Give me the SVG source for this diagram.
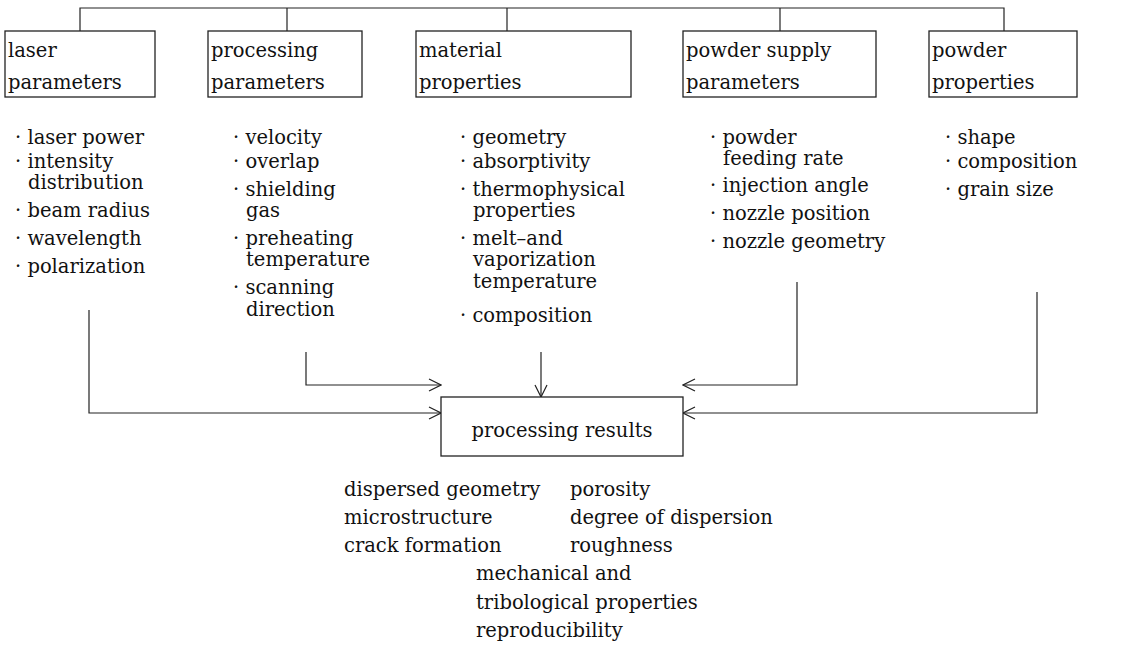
<svg xmlns="http://www.w3.org/2000/svg" width="1121" height="647" viewBox="0 0 1121 647">
<defs>
<style>
text{font-family:"DejaVu Serif","Liberation Serif",serif;font-size:19.5px;fill:#111}
.box{fill:#fff;stroke:#222;stroke-width:1.3}
.ln{fill:none;stroke:#222;stroke-width:1.2}
</style>
<marker id="ah" viewBox="0 0 14 14" refX="13" refY="7" markerWidth="14" markerHeight="14" markerUnits="userSpaceOnUse" orient="auto">
<path d="M1,1 L13,7 L1,13" fill="none" stroke="#222" stroke-width="1.2"/>
</marker>
</defs>
<rect width="1121" height="647" fill="#fff"/>
<g id="connectors">
<path class="ln" d="M80,31 V8 H1004 V31"/>
<path class="ln" d="M287,8 V31"/>
<path class="ln" d="M507,8 V31"/>
<path class="ln" d="M780,8 V31"/>
<path class="ln" d="M89,310 V413 H441" marker-end="url(#ah)"/>
<path class="ln" d="M306,352 V385 H441" marker-end="url(#ah)"/>
<path class="ln" d="M541,352 V397" marker-end="url(#ah)"/>
<path class="ln" d="M797,282 V385 H683" marker-end="url(#ah)"/>
<path class="ln" d="M1037,292 V413 H683" marker-end="url(#ah)"/>
</g>
<g id="laser">
<rect class="box" x="5" y="31" width="150" height="66"/>
<text x="8" y="57">laser</text>
<text x="8" y="89">parameters</text>
<text x="15" y="144">· laser power</text>
<text x="15" y="168">· intensity</text>
<text x="28" y="189">distribution</text>
<text x="15" y="217">· beam radius</text>
<text x="15" y="245">· wavelength</text>
<text x="15" y="273">· polarization</text>
</g>
<g id="processing">
<rect class="box" x="208" y="31" width="154" height="66"/>
<text x="211" y="57">processing</text>
<text x="211" y="89">parameters</text>
<text x="233" y="144">· velocity</text>
<text x="233" y="168">· overlap</text>
<text x="233" y="196">· shielding</text>
<text x="246" y="217">gas</text>
<text x="233" y="245">· preheating</text>
<text x="246" y="266">temperature</text>
<text x="233" y="294">· scanning</text>
<text x="246" y="316">direction</text>
</g>
<g id="material">
<rect class="box" x="416" y="31" width="215" height="66"/>
<text x="419" y="57">material</text>
<text x="419" y="89">properties</text>
<text x="460" y="144">· geometry</text>
<text x="460" y="168">· absorptivity</text>
<text x="460" y="196">· thermophysical</text>
<text x="473" y="217">properties</text>
<text x="460" y="245">· melt–and</text>
<text x="473" y="266">vaporization</text>
<text x="473" y="288">temperature</text>
<text x="460" y="322">· composition</text>
</g>
<g id="powder-supply">
<rect class="box" x="683" y="31" width="193" height="66"/>
<text x="686" y="57">powder supply</text>
<text x="686" y="89">parameters</text>
<text x="710" y="144">· powder</text>
<text x="723" y="165">feeding rate</text>
<text x="710" y="192">· injection angle</text>
<text x="710" y="220">· nozzle position</text>
<text x="710" y="248">· nozzle geometry</text>
</g>
<g id="powder">
<rect class="box" x="929" y="31" width="148" height="66"/>
<text x="932" y="57">powder</text>
<text x="932" y="89">properties</text>
<text x="945" y="144">· shape</text>
<text x="945" y="168">· composition</text>
<text x="945" y="196">· grain size</text>
</g>
<g id="results">
<rect class="box" x="441" y="397" width="242" height="59"/>
<text x="562" y="437" text-anchor="middle">processing results</text>
<text x="344" y="496">dispersed geometry</text>
<text x="344" y="524">microstructure</text>
<text x="344" y="552">crack formation</text>
<text x="570" y="496">porosity</text>
<text x="570" y="524">degree of dispersion</text>
<text x="570" y="552">roughness</text>
<text x="476" y="580">mechanical and</text>
<text x="476" y="609">tribological properties</text>
<text x="476" y="637">reproducibility</text>
</g>
</svg>
